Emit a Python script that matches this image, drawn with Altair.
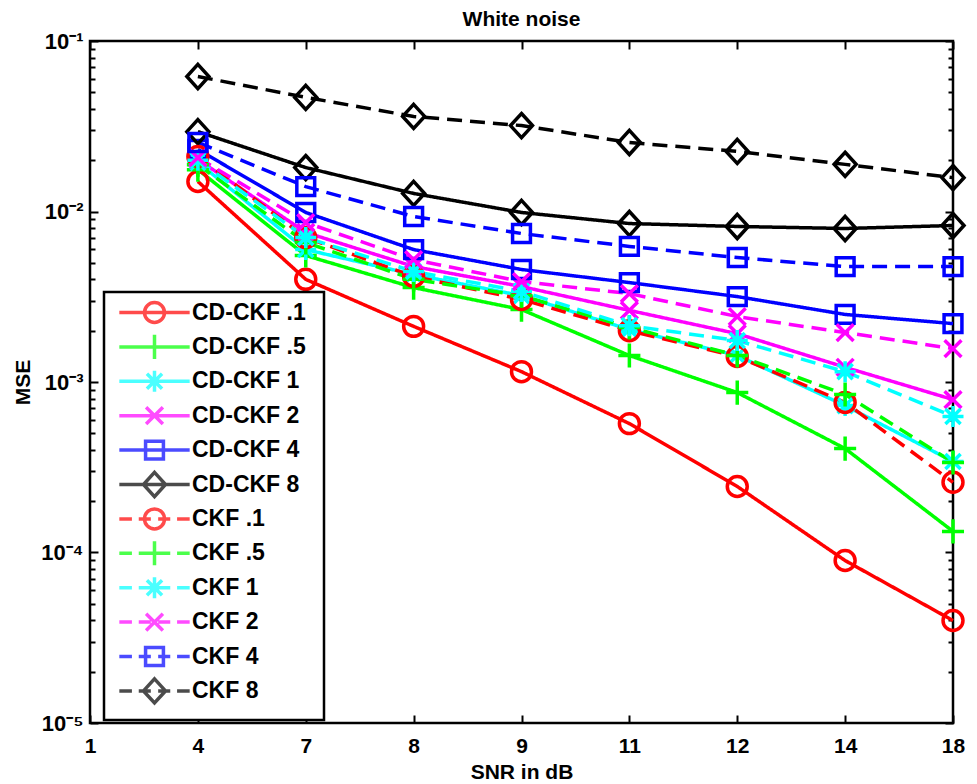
import altair as alt
import pandas as pd

FONT = "Liberation Sans, Arial, Helvetica, sans-serif"

# ---- data -------------------------------------------------------------
x_tick_labels = ["1", "4", "7", "8", "9", "11", "12", "14", "18"]   # axis positions 0..8
snr_points = ["4", "7", "8", "9", "11", "12", "14", "18"]           # data at positions 1..8

series_names = ["CD-CKF .1", "CD-CKF .5", "CD-CKF 1", "CD-CKF 2", "CD-CKF 4", "CD-CKF 8",
                "CKF .1", "CKF .5", "CKF 1", "CKF 2", "CKF 4", "CKF 8"]
series_colors = ["#ff0000", "#00ff00", "#00ffff", "#ff00ff", "#0000ff", "#000000",
                 "#ff0000", "#00ff00", "#00ffff", "#ff00ff", "#0000ff", "#000000"]

cdckf_01 = [0.0150, 0.0040, 0.00212, 0.00115, 0.00057, 0.000244, 0.0000897, 0.0000399]
cdckf_05 = [0.0176, 0.00552, 0.00358, 0.00266, 0.00143, 0.000867, 0.000407, 0.000133]
cdckf_1 = [0.0194, 0.00598, 0.00427, 0.00321, 0.00203, 0.00143, 0.000727, 0.000342]
cdckf_2 = [0.0202, 0.00754, 0.00476, 0.00363, 0.00263, 0.00192, 0.00122, 0.000789]
cdckf_4 = [0.0231, 0.00987, 0.00598, 0.00457, 0.00383, 0.00317, 0.00249, 0.00220]
cdckf_8 = [0.0294, 0.0181, 0.01276, 0.00987, 0.0085, 0.00817, 0.00795, 0.00828]
ckf_01 = [0.0210, 0.00703, 0.00416, 0.00305, 0.00200, 0.00141, 0.000759, 0.000258]
ckf_05 = [0.0188, 0.00658, 0.00400, 0.00321, 0.00209, 0.00143, 0.000845, 0.000337]
ckf_1 = [0.0200, 0.00703, 0.00445, 0.00340, 0.00214, 0.00175, 0.00115, 0.000628]
ckf_2 = [0.0207, 0.00861, 0.00522, 0.00388, 0.00330, 0.00242, 0.00195, 0.00157]
ckf_4 = [0.0254, 0.0140, 0.00935, 0.00743, 0.00624, 0.00537, 0.00475, 0.00475]
ckf_8 = [0.0619, 0.0467, 0.0361, 0.0319, 0.0254, 0.0225, 0.0189, 0.0158]

series_values = [cdckf_01, cdckf_05, cdckf_1, cdckf_2, cdckf_4, cdckf_8,
                 ckf_01, ckf_05, ckf_1, ckf_2, ckf_4, ckf_8]

y_tick_values = [1e-5, 1e-4, 1e-3, 1e-2, 1e-1]
y_tick_labels = ["10\u207b\u2075", "10\u207b\u2074", "10\u207b\u00b3", "10\u207b\u00b2", "10\u207b\u00b9"]
y_minor_mult = [2, 3, 4, 5, 6, 7, 8, 9]
y_minor_values = [m * d for d in [1e-5, 1e-4, 1e-3, 1e-2] for m in y_minor_mult]

# ---- styles -----------------------------------------------------------
circle = "M-0.95,0A0.95,0.95 0 1,0 0.95,0A0.95,0.95 0 1,0 -0.95,0Z"
plus = "M-1.05,0H1.05M0,-1.15V1.15"
star = "M-1,0H1M0,-1V1M-0.72,-0.72L0.72,0.72M-0.72,0.72L0.72,-0.72"
xmark = "M-0.8,-0.8L0.8,0.8M-0.8,0.8L0.8,-0.8"
square = "M-0.85,-0.85H0.85V0.85H-0.85Z"
diamond = "M0,-1.15L1.05,0L0,1.15L-1.05,0Z"
markers = [circle, plus, star, xmark, square, diamond] * 2

solid_seg = "M0,-1.3M0,1.3M-3.35,0H3.35"
dash_seg = "M0,-1.3M0,1.3M-3.35,0H-2.15M-1.5,0H-0.35M0.35,0H1.5M2.15,0H3.35"
legend_shapes = [solid_seg + m for m in markers[:6]] + [dash_seg + m for m in markers[6:]]
dashes = [[1, 0]] * 6 + [[15, 8]] * 6

rows = []
for name, vals in zip(series_names, series_values):
    for j, v in enumerate(vals):
        rows.append({"series": name, "idx": j + 1, "snr": snr_points[j], "mse": v})
df = pd.DataFrame(rows)

x_label_expr = "[" + ",".join("'%s'" % s for s in x_tick_labels) + "][round(datum.value)]"
y_label_expr = "[" + ",".join("'%s'" % s for s in y_tick_labels) + "][round(log(datum.value)/LN10)+5]"

x_scale = alt.Scale(domain=[0, 8], nice=False, zero=False)
y_scale = alt.Scale(type="log", domain=[1e-5, 1e-1], nice=False)
color_scale = alt.Scale(domain=series_names, range=series_colors)

MAJ = {"expr": "-8"}
MIN = {"expr": "-5"}

LW = 3.5
MSIZE = 441

legend_def = alt.Legend(title="\u00a0", titleOrient="right", titleFontSize=12, titlePadding=10,
                        orient="none", legendX=14, legendY=251,
                        symbolSize=MSIZE, symbolStrokeWidth=LW, symbolOffset=30,
                        labelOffset=25, padding=8, rowPadding=-8.6)

base = alt.Chart(df)

lines = base.mark_line(strokeWidth=LW).encode(
    x=alt.X("idx:Q", scale=x_scale,
            axis=alt.Axis(orient="bottom", values=list(range(9)), labelExpr=x_label_expr,
                          title="SNR in dB", tickSize=MAJ, labelPadding=20, labelFlush=False,
                          titlePadding=5)),
    y=alt.Y("mse:Q", scale=y_scale,
            axis=alt.Axis(orient="left", values=y_tick_values, labelExpr=y_label_expr,
                          title="MSE", tickSize=MAJ, labelPadding=15, titlePadding=7,
                          labelBaseline="middle", labelFontSize=22)),
    color=alt.Color("series:N", scale=color_scale, legend=None),
    strokeDash=alt.StrokeDash("series:N", scale=alt.Scale(domain=series_names, range=dashes), legend=None),
)

points = base.mark_point(filled=False, strokeWidth=LW, size=MSIZE, opacity=1).encode(
    x=alt.X("idx:Q", scale=x_scale,
            axis=alt.Axis(orient="top", values=list(range(9)), labels=False, title=None, tickSize=MAJ)),
    y=alt.Y("mse:Q", scale=y_scale,
            axis=alt.Axis(orient="left", values=y_minor_values, labels=False, title=None, tickSize=MIN)),
    color=alt.Color("series:N", scale=color_scale, legend=None),
    shape=alt.Shape("series:N", scale=alt.Scale(domain=series_names, range=markers), legend=None),
)

legend_layer = base.transform_filter("datum.mse < 0").mark_point(filled=False, strokeWidth=LW, size=MSIZE).encode(
    x=alt.X("idx:Q", scale=x_scale, axis=None),
    y=alt.Y("mse:Q", scale=y_scale,
            axis=alt.Axis(orient="right", values=y_tick_values, labels=False, title=None, tickSize=MAJ)),
    color=alt.Color("series:N", scale=color_scale, legend=legend_def),
    shape=alt.Shape("series:N", scale=alt.Scale(domain=series_names, range=legend_shapes),
                    legend=legend_def),
)

minor_right = base.transform_filter("datum.mse < 0").mark_point(opacity=0).encode(
    x=alt.X("idx:Q", scale=x_scale, axis=None),
    y=alt.Y("mse:Q", scale=y_scale,
            axis=alt.Axis(orient="right", values=y_minor_values, labels=False, title=None, tickSize=MIN)),
)

chart = alt.layer(lines, points, legend_layer, minor_right).resolve_axis(
    x="independent", y="independent"
).resolve_scale(
    color="independent", shape="independent"
).properties(
    width=863, height=682,
    autosize=alt.AutoSizeParams(type="none"),
    padding={"left": 90, "top": 41, "right": 24, "bottom": 61},
    title=alt.TitleParams("White noise", fontSize=21, fontWeight="bold", font=FONT,
                          anchor="middle", baseline="bottom", offset=-21, color="black"),
).configure_view(
    stroke="black", strokeWidth=2.5
).configure_axis(
    grid=False, domain=False, tickColor="black", tickWidth=2,
    labelColor="black", titleColor="black", labelFont=FONT, titleFont=FONT,
    labelFontWeight="bold", titleFontWeight="bold", labelFontSize=21, titleFontSize=21,
).configure_legend(
    strokeColor="black", strokeWidth=2.5, fillColor="white",
    labelFont=FONT, labelFontSize=23, labelFontWeight="bold", labelColor="black",
    labelLimit=300,
)

chart.save("out.html", embed_options={"renderer": "svg", "actions": False})
